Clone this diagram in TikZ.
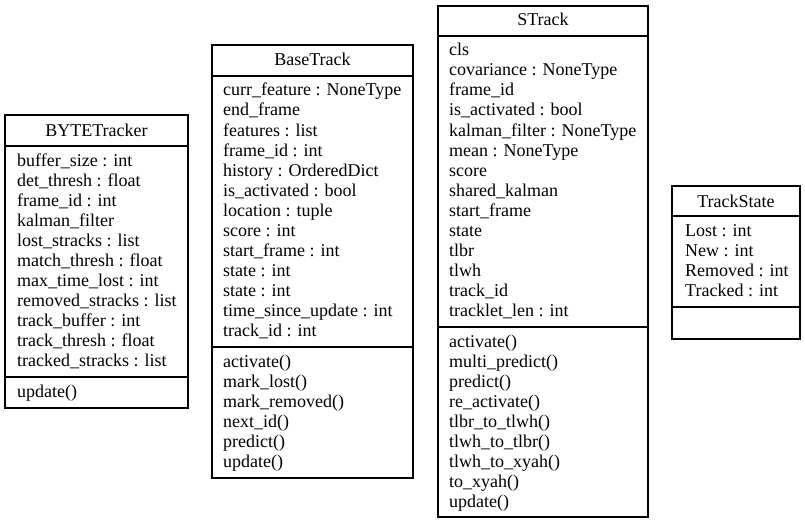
\documentclass[tikz,border=0pt]{standalone}
\usepackage{fontspec}
\setmainfont{Liberation Serif}
\begin{document}
\begin{tikzpicture}[x=1pt,y=-1pt,
  frame/.style={draw=black,line width=1.1pt},
  ttl/.style={anchor=base,inner sep=0pt,font=\fontsize{18}{20}\selectfont},
  entry/.style={anchor=base west,inner sep=0pt,font=\fontsize{18}{20}\selectfont}]
\useasboundingbox (0,0) rectangle (805,524);
\fill[white] (0,0) rectangle (805,524);
% BYTETracker
\draw[frame] (5,115) rectangle (188,408);
\draw[frame] (5,146) -- (188,146);
\draw[frame] (5,377) -- (188,377);
\node[ttl] (byte) at (96.5,136) {BYTETracker};
\foreach [count=\i] \t in {buffer\_size : int, det\_thresh : float, frame\_id : int, kalman\_filter, lost\_stracks : list, match\_thresh : float, max\_time\_lost : int, removed\_stracks : list, track\_buffer : int, track\_thresh : float, tracked\_stracks : list}
  \node[entry] (byte-a\i) at (17,146+20*\i) {\t};
\node[entry] (byte-m1) at (17,397) {update()};
% BaseTrack
\draw[frame] (212,45) rectangle (413,478);
\draw[frame] (212,76) -- (413,76);
\draw[frame] (212,347) -- (413,347);
\node[ttl] (base) at (312.5,66) {BaseTrack};
\foreach [count=\i] \t in {curr\_feature : NoneType, end\_frame, features : list, frame\_id : int, history : OrderedDict, is\_activated : bool, location : tuple, score : int, start\_frame : int, state : int, state : int, time\_since\_update : int, track\_id : int}
  \node[entry] (base-a\i) at (223,76+20*\i) {\t};
\foreach [count=\i] \t in {activate(), mark\_lost(), mark\_removed(), next\_id(), predict(), update()}
  \node[entry] (base-m\i) at (223,347+20*\i) {\t};
% STrack
\draw[frame] (438,6) rectangle (648,517);
\draw[frame] (438,36) -- (648,36);
\draw[frame] (438,327) -- (648,327);
\node[ttl] (strack) at (543,26) {STrack};
\foreach [count=\i] \t in {cls, covariance : NoneType, frame\_id, is\_activated : bool, kalman\_filter : NoneType, mean : NoneType, score, shared\_kalman, start\_frame, state, tlbr, tlwh, track\_id, tracklet\_len : int}
  \node[entry] (strack-a\i) at (449,36+20*\i) {\t};
\foreach [count=\i] \t in {activate(), multi\_predict(), predict(), re\_activate(), tlbr\_to\_tlwh(), tlwh\_to\_tlbr(), tlwh\_to\_xyah(), to\_xyah(), update()}
  \node[entry] (strack-m\i) at (449,327+20*\i) {\t};
% TrackState
\draw[frame] (672,186) rectangle (800,339);
\draw[frame] (672,216) -- (800,216);
\draw[frame] (672,307) -- (800,307);
\node[ttl] (state) at (736,207) {TrackState};
\foreach [count=\i] \t in {Lost : int, New : int, Removed : int, Tracked : int}
  \node[entry] (state-a\i) at (685,216+20*\i) {\t};
\end{tikzpicture}
\end{document}
